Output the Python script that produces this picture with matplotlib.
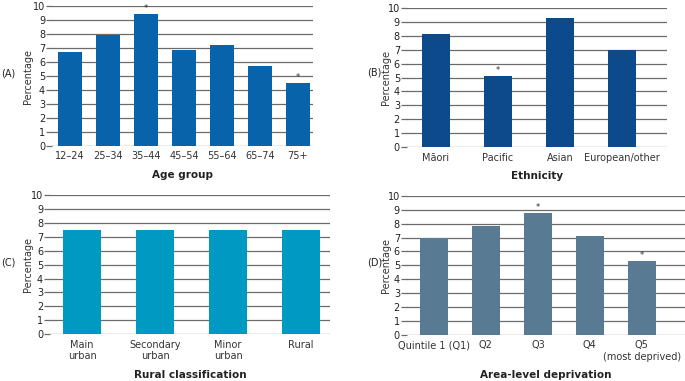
import matplotlib.pyplot as plt

plt.rcParams['font.family'] = ['Liberation Sans Narrow', 'DejaVu Sans']
plt.rcParams['font.size'] = 7

# Data
age_groups = ["12–24", "25–34", "35–44", "45–54", "55–64", "65–74", "75+"]
age_values = [6.75, 7.9, 9.4, 6.85, 7.2, 5.75, 4.5]
age_sig = [False, False, True, False, False, False, True]

ethnicity = ["Māori", "Pacific", "Asian", "European/other"]
eth_values = [8.15, 5.1, 9.25, 7.0]
eth_sig = [False, True, False, False]

rural = ["Main\nurban", "Secondary\nurban", "Minor\nurban", "Rural"]
rural_values = [7.5, 7.5, 7.5, 7.5]
rural_sig = [False, False, False, False]

deprivation = ["Quintile 1 (Q1)", "Q2", "Q3", "Q4", "Q5\n(most deprived)"]
dep_values = [6.95, 7.8, 8.75, 7.1, 5.3]
dep_sig = [False, False, True, False, True]

panels = [
    # (rect, labels, values, sig, color, width, xlim, xlabel, tag, tag_pos, ylabel_x)
    ([0.076, 0.617, 0.381, 0.367], age_groups, age_values, age_sig, "#0863aa", 0.63,
     (-0.47, 6.4), "Age group", "(A)", (0.001, 0.808), -0.073),
    ([0.594, 0.614, 0.380, 0.365], ethnicity, eth_values, eth_sig, "#0d4a8c", 0.44,
     (-0.47, 3.73), "Ethnicity", "(B)", (0.536, 0.811), -0.060),
    ([0.073, 0.123, 0.409, 0.365], rural, rural_values, rural_sig, "#0099c2", 0.53,
     (-0.44, 3.4), "Rural classification", "(C)", (0.001, 0.310), -0.061),
    ([0.594, 0.121, 0.406, 0.365], deprivation, dep_values, dep_sig, "#587b93", 0.55,
     (-0.52, 4.83), "Area-level deprivation", "(D)", (0.536, 0.310), -0.057),
]

fig = plt.figure(figsize=(6.85, 3.81), dpi=100)

for rect, labels, values, sig, color, width, xlim, xlabel, tag, tag_pos, ylx in panels:
    ax = fig.add_axes(rect)
    x = range(len(labels))
    ax.bar(x, values, width=width, color=color, zorder=3)
    for xi, v, s in zip(x, values, sig):
        if s:
            ax.text(xi, v + 0.1, "*", ha="center", va="bottom", fontsize=6, color="#333333")
    ax.set_xlim(*xlim)
    ax.set_ylim(0, 10)
    ax.set_yticks(range(0, 11))
    ax.set_xticks(list(x))
    ax.set_xticklabels(labels, color="#333333")
    ax.grid(axis="y", color="#6b6b6b", linewidth=0.9, zorder=0)
    for s in ["top", "right", "left", "bottom"]:
        ax.spines[s].set_visible(False)
    ax.tick_params(axis="y", length=4, width=0.9, color="#6b6b6b", pad=1, labelcolor="#222222")
    ax.tick_params(axis="x", length=0, pad=4)
    ax.set_ylabel("Percentage", color="#333333")
    ax.yaxis.set_label_coords(ylx, 0.5)
    ax.set_xlabel(xlabel, fontweight="bold", color="#222222", fontsize=7.5, labelpad=6)
    fig.text(tag_pos[0], tag_pos[1], tag, fontsize=7, color="#222222", va="center")

plt.savefig("out.png", dpi=100)
